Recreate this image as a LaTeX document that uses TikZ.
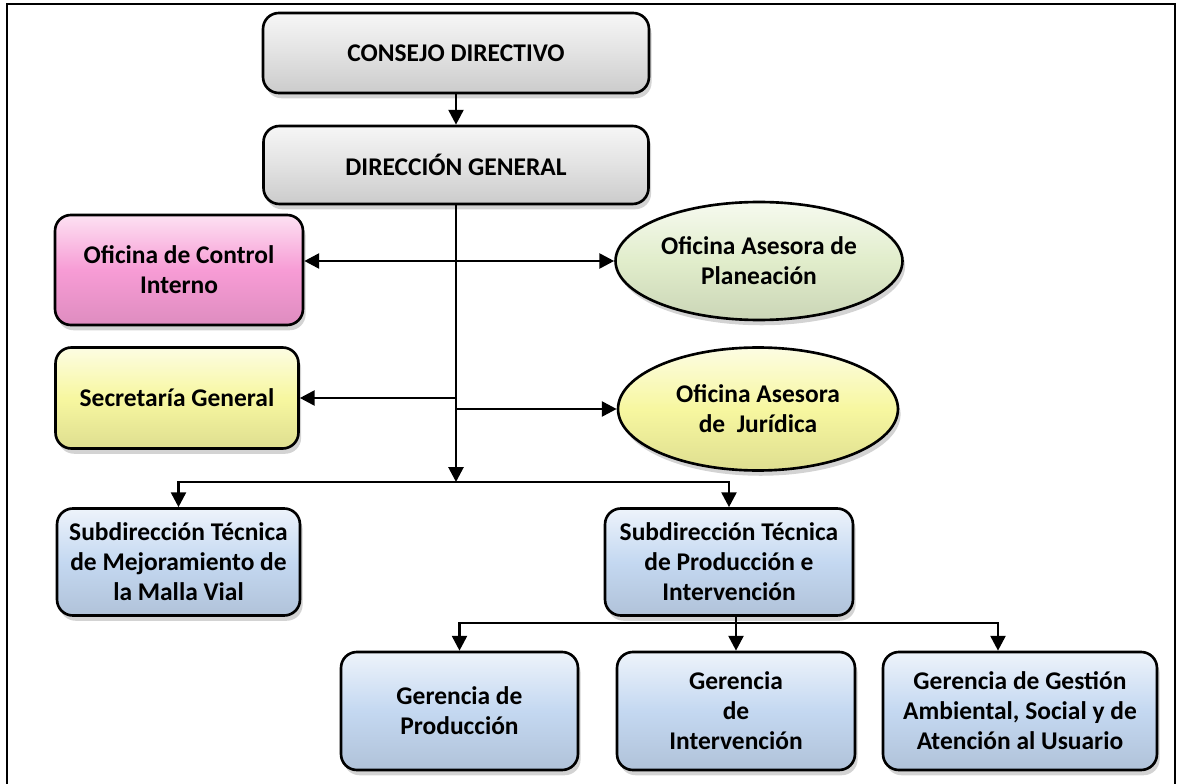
\documentclass[tikz,border=0pt]{standalone}
\usepackage{fontspec}
\setmainfont{Carlito}
\usepackage{xcolor}
\usepackage{tikz}
\usetikzlibrary{shapes.geometric,shadows,arrows.meta}

\definecolor{boxgray}{RGB}{226,226,226}
\definecolor{boxpink}{RGB}{247,156,213}
\definecolor{boxgreen}{RGB}{225,237,203}
\definecolor{boxyellow}{RGB}{247,247,160}
\definecolor{boxblue}{RGB}{196,216,241}

\begin{document}
\begin{tikzpicture}[x=0.02cm,y=-0.02cm,
  >={Triangle[length=8.5pt,width=8.5pt]},
  orgbox/.style={draw=black, line width=1.5pt, rounded corners=9pt,
    top color=#1!30!white, bottom color=#1!90!black, middle color=#1,
    drop shadow={opacity=0.35,shadow xshift=1.5pt,shadow yshift=-3pt},
    align=center, text=black, inner sep=2pt,
    font=\fontsize{14.5}{17}\selectfont\bfseries},
  orgoval/.style={orgbox=#1, ellipse, sharp corners},
  conn/.style={black, line width=1.6pt}]
\useasboundingbox (0,0) rectangle (1178,784);
\draw[line width=1.6pt] (7,800) -- (7,4) -- (1175,4) -- (1175,800);

\node[orgbox=boxgray, minimum width=7.72cm, minimum height=1.6cm] (cd) at (456,53) {CONSEJO DIRECTIVO};
\node[orgbox=boxgray, minimum width=7.7cm, minimum height=1.56cm] (dg) at (456,165) {DIRECCIÓN GENERAL};
\node[orgbox=boxpink, minimum width=4.96cm, minimum height=2.2cm] (ctrl) at (179,270) {Oficina de Control\\Interno};
\node[orgbox=boxyellow, minimum width=4.86cm, minimum height=2.02cm] (sec) at (177,398) {Secretaría General};
\node[orgoval=boxgreen, minimum width=5.64cm, minimum height=2.36cm] (pln) at (759,261) {Oficina Asesora de\\Planeación};
\node[orgoval=boxyellow, minimum width=5.6cm, minimum height=2.46cm] (jur) at (758,409) {Oficina Asesora\\de~ Jurídica};
\node[orgbox=boxblue, minimum width=4.86cm, minimum height=2.14cm] (smv) at (178.5,562) {Subdirección Técnica\\de Mejoramiento de\\la Malla Vial};
\node[orgbox=boxblue, minimum width=4.96cm, minimum height=2.14cm] (stp) at (729,562) {Subdirección Técnica\\de Producción e\\Intervención};
\node[orgbox=boxblue, minimum width=4.74cm, minimum height=2.36cm] (gpr) at (459.5,711) {Gerencia de\\Producción};
\node[orgbox=boxblue, minimum width=4.76cm, minimum height=2.36cm] (gin) at (736,711) {Gerencia\\de\\Intervención};
\node[orgbox=boxblue, minimum width=5.48cm, minimum height=2.36cm] (gam) at (1020,711) {Gerencia de Gestión\\Ambiental, Social y de\\Atención al Usuario};

\coordinate (hub) at (456,482);
\coordinate (hubb) at (736,623);
\draw[conn,->] (cd) -- (dg);
\draw[conn,->] (dg.south) -- (hub);
\draw[conn,<->] (ctrl.east |- pln.west) -- (pln.west);
\draw[conn,->] (dg.south |- sec.east) -- (sec.east);
\draw[conn,->] (dg.south |- jur.west) -- (jur.west);
\draw[conn,->] (hub) -| (smv.north);
\draw[conn,->] (hub) -| (stp.north);
\draw[conn,->] (stp.south -| gin.north) -- (gin.north);
\draw[conn,->] (hubb) -| (gpr.north);
\draw[conn,->] (hubb) -| ([xshift=-0.44cm]gam.north);
\end{tikzpicture}
\end{document}
